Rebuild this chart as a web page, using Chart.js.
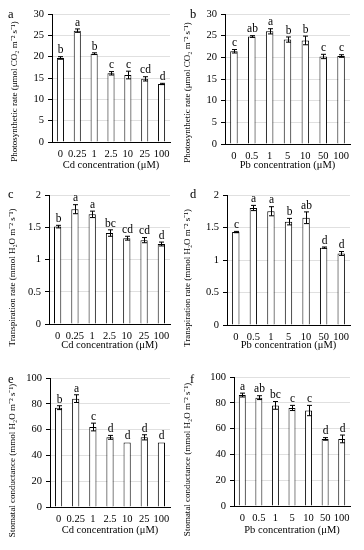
<!DOCTYPE html>
<html>
<head>
<meta charset="utf-8">
<script src="https://cdn.jsdelivr.net/npm/chart.js@4.4.0/dist/chart.umd.min.js"></script>
<style>
  body { margin: 0; background: #fff; }
  canvas { position: absolute; }
</style>
</head>
<body>
<canvas id="pa" width="182" height="183" style="left:0;top:0"></canvas>
<canvas id="pb" width="182" height="183" style="left:182px;top:0"></canvas>
<canvas id="pc" width="182" height="183" style="left:0;top:180px"></canvas>
<canvas id="pd" width="182" height="183" style="left:182px;top:180px"></canvas>
<canvas id="pe" width="182" height="183" style="left:0;top:365px"></canvas>
<canvas id="pf" width="182" height="183" style="left:182px;top:365px"></canvas>
<script>
const cdDoses = ["0", "0.25", "1", "2.5", "10", "25", "100"];
const pbDoses = ["0", "0.5", "1", "5", "10", "50", "100"];

const photoCd = [19.7, 26.1, 20.7, 16.1, 15.7, 14.8, 13.6];
const photoCdErr = [0.3, 0.4, 0.2, 0.4, 0.9, 0.5, 0.15];
const photoCdSig = ["b", "a", "b", "c", "c", "cd", "d"];

const photoPb = [21.4, 24.8, 26.0, 24.1, 23.9, 20.2, 20.3];
const photoPbErr = [0.4, 0.2, 0.6, 0.6, 1.0, 0.5, 0.3];
const photoPbSig = ["c", "ab", "a", "b", "b", "c", "c"];

const transCd = [1.51, 1.78, 1.70, 1.41, 1.33, 1.30, 1.24];
const transCdErr = [0.02, 0.07, 0.05, 0.05, 0.03, 0.04, 0.03];
const transCdSig = ["b", "a", "a", "bc", "cd", "cd", "d"];

const transPb = [1.43, 1.80, 1.75, 1.59, 1.65, 1.19, 1.10];
const transPbErr = [0.01, 0.04, 0.07, 0.05, 0.09, 0.01, 0.03];
const transPbSig = ["c", "a", "a", "b", "ab", "d", "d"];

const stomCd = [77, 84, 62, 54, 50, 54, 50];
const stomCdErr = [1.5, 3, 3, 1.5, 0, 2, 0];
const stomCdSig = ["b", "a", "c", "d", "d", "d", "d"];

const stomPb = [86, 84, 78, 76, 74, 52, 52];
const stomPbErr = [1.5, 1.5, 3, 2, 4, 1, 3];
const stomPbSig = ["a", "ab", "bc", "c", "c", "d", "d"];

const FONT = "'Liberation Serif', 'Times New Roman', serif";
const EN = "\u2002";

// error bars, significance letters and the panel letter
const errorBars = {
  id: "errorBars",
  afterDatasetsDraw(chart, args, opts) {
    const ctx = chart.ctx;
    const y = chart.scales.y;
    const meta = chart.getDatasetMeta(0);
    ctx.save();
    ctx.strokeStyle = "#000";
    ctx.fillStyle = "#000";
    ctx.lineWidth = 1;
    ctx.font = "11.5px " + FONT;
    ctx.textAlign = "center";
    ctx.textBaseline = "bottom";
    meta.data.forEach((bar, i) => {
      const v = opts.values[i];
      const e = opts.errors[i];
      const x = Math.round(bar.x) + 0.5;
      const top = y.getPixelForValue(v + e);
      const bot = y.getPixelForValue(v - e);
      if (e > 0) {
        ctx.beginPath();
        ctx.moveTo(x, top); ctx.lineTo(x, bot);
        ctx.moveTo(x - 2.5, top); ctx.lineTo(x + 2.5, top);
        ctx.moveTo(x - 2.5, bot); ctx.lineTo(x + 2.5, bot);
        ctx.stroke();
      }
      ctx.fillText(opts.letters[i], x, top - 0.5);
    });
    ctx.font = "12.5px " + FONT;
    ctx.textAlign = "left";
    ctx.textBaseline = "middle";
    ctx.fillText(opts.panel, 8, 15);
    ctx.restore();
  }
};

function makePanel(id, p) {
  const H = 173 - p.bottom;
  new Chart(document.getElementById(id), {
    type: "bar",
    data: {
      labels: p.labels,
      datasets: [{
        data: p.values,
        backgroundColor: "#fff",
        borderColor: "#000",
        borderWidth: 1,
        barPercentage: 0.42,
        categoryPercentage: 1
      }]
    },
    options: {
      responsive: false,
      animation: false,
      layout: { padding: { left: 0, top: p.top, right: 182 - p.right, bottom: 183 - p.bottom - H } },
      plugins: {
        legend: { display: false },
        tooltip: { enabled: false },
        errorBars: { values: p.values, errors: p.errors, letters: p.letters, panel: p.panel }
      },
      scales: {
        x: {
          grid: { display: false, drawTicks: false },
          border: { color: "#000", width: 1 },
          ticks: { color: "#000", font: { family: FONT, size: 10.5 }, padding: 6, maxRotation: 0, autoSkip: false },
          title: { display: true, text: p.xTitle, color: "#000", font: { family: FONT, size: 10.5 }, padding: { top: 0, bottom: 1 } },
          afterFit(s) { s.height = H; }
        },
        y: {
          min: 0, max: p.max,
          grid: { color: "#e0e0e0", tickColor: "#000", tickLength: 4 },
          border: { color: "#000", width: 1 },
          ticks: { stepSize: p.step, color: "#000", font: { family: FONT, size: 10.5 }, padding: 4, callback: v => String(v) },
          title: { display: true, text: p.yTitle + EN.repeat(p.shift), color: "#000", font: { family: FONT, size: 9 }, padding: { top: p.titleX - 5.4, bottom: 0 } },
          afterFit(s) { s.width = p.left; }
        }
      }
    },
    plugins: [errorBars]
  });
}

const photoTitle = "Photosynthetic rate (\u03bcmol CO\u2082 m\u207b\u00b2 s\u207b\u00b9)";
const transTitle = "Transpiration rate (mmol H\u2082O m\u207b\u00b2 s\u207b\u00b9)";
const stomTitle = "Stomatal conductance (mmol H\u2082O m\u207b\u00b2 s\u207b\u00b9)";
const cdTitle = "Cd concentration (\u03bcM)";
const pbTitle = "Pb concentration (\u03bcM)";

makePanel("pa", { panel: "a", labels: cdDoses, values: photoCd, errors: photoCdErr, letters: photoCdSig,
  max: 30, step: 5, yTitle: photoTitle, xTitle: cdTitle, left: 52, right: 170, top: 14, bottom: 142, titleX: 15, shift: 6 });
makePanel("pb", { panel: "b", labels: pbDoses, values: photoPb, errors: photoPbErr, letters: photoPbSig,
  max: 30, step: 5, yTitle: photoTitle, xTitle: pbTitle, left: 43, right: 168, top: 14, bottom: 144, titleX: 6, shift: 6 });
makePanel("pc", { panel: "c", labels: cdDoses, values: transCd, errors: transCdErr, letters: transCdSig,
  max: 2, step: 0.5, yTitle: transTitle, xTitle: cdTitle, left: 49, right: 170, top: 15, bottom: 144, titleX: 13, shift: 8 });
makePanel("pd", { panel: "d", labels: pbDoses, values: transPb, errors: transPbErr, letters: transPbSig,
  max: 2, step: 0.5, yTitle: transTitle, xTitle: pbTitle, left: 45, right: 168, top: 15, bottom: 145, titleX: 6, shift: 8 });
makePanel("pe", { panel: "e", labels: cdDoses, values: stomCd, errors: stomCdErr, letters: stomCdSig,
  max: 100, step: 20, yTitle: stomTitle, xTitle: cdTitle, left: 50, right: 170, top: 13, bottom: 142, titleX: 13, shift: 8 });
makePanel("pf", { panel: "f", labels: pbDoses, values: stomPb, errors: stomPbErr, letters: stomPbSig,
  max: 100, step: 20, yTitle: stomTitle, xTitle: pbTitle, left: 52, right: 168, top: 12, bottom: 141, titleX: 6, shift: 8 });
</script>
</body>
</html>
